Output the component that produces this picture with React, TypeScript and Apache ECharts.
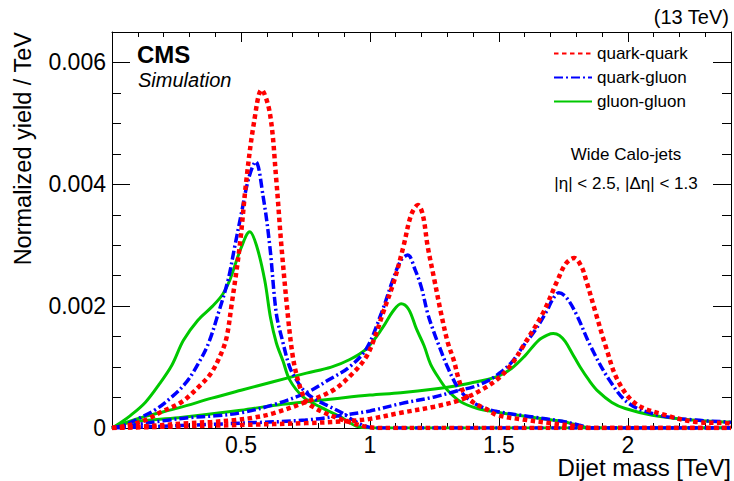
import React, { useEffect, useRef } from "react";
import * as echarts from "echarts";

// Dijet mass [TeV] vs normalized yield / TeV
const qqLow: [number, number][] = [
  [0, 0], [0.06, 0.00004], [0.129, 0.00013], [0.194, 0.00027], [0.271, 0.00043], [0.342, 0.0007],
  [0.387, 0.00092], [0.426, 0.00125], [0.445, 0.0015], [0.463, 0.002], [0.495, 0.00298], [0.521, 0.00407],
  [0.55, 0.005], [0.58, 0.00555], [0.612, 0.00517], [0.637, 0.00407], [0.657, 0.00298], [0.683, 0.0018],
  [0.7, 0.0012], [0.715, 0.00088], [0.735, 0.0006], [0.754, 0.00043], [0.79, 0.00032], [0.818, 0.00026],
  [0.883, 0.00015], [0.934, 0.00008], [0.986, 0.00002], [1.05, 0], [2.4, 0],
];
const qgLow: [number, number][] = [
  [0, 0], [0.05, 0.00005], [0.1, 0.00015], [0.168, 0.0003], [0.232, 0.00051], [0.29, 0.00076],
  [0.335, 0.00106], [0.374, 0.00139], [0.412, 0.00188], [0.45, 0.00243], [0.476, 0.00298], [0.502, 0.00353],
  [0.53, 0.0041], [0.557, 0.00437], [0.586, 0.0038], [0.612, 0.00298], [0.637, 0.00188], [0.66, 0.00145],
  [0.689, 0.001], [0.715, 0.00079], [0.747, 0.0006], [0.792, 0.00046], [0.844, 0.00035], [0.895, 0.00024],
  [0.934, 0.00013], [0.97, 0.00005], [1.0, 0.00001], [1.05, 0], [2.4, 0],
];
const ggLow: [number, number][] = [
  [0, 0], [0.03, 0.00008], [0.07, 0.0002], [0.129, 0.00042], [0.18, 0.0007], [0.232, 0.00103],
  [0.277, 0.00144], [0.333, 0.00177], [0.39, 0.002], [0.43, 0.0022], [0.457, 0.00243], [0.5, 0.00295],
  [0.534, 0.00322], [0.56, 0.003], [0.592, 0.00243], [0.615, 0.0018], [0.637, 0.0014], [0.663, 0.0011],
  [0.689, 0.00079], [0.741, 0.00051], [0.805, 0.00035], [0.883, 0.00019], [0.947, 0.00003], [1.0, 0], [2.4, 0],
];
const qqMid: [number, number][] = [
  [0, 0], [0.1, 0.00002], [0.297, 0.00008], [0.387, 0.0001], [0.477, 0.00013], [0.55, 0.00017],
  [0.625, 0.00024], [0.754, 0.00043], [0.857, 0.00062], [0.934, 0.0009], [0.986, 0.00117], [1.02, 0.0015],
  [1.05, 0.00188], [1.095, 0.00243], [1.13, 0.00298], [1.16, 0.0035], [1.186, 0.00366], [1.205, 0.0035],
  [1.224, 0.00298], [1.25, 0.00243], [1.276, 0.00188], [1.302, 0.0014], [1.326, 0.0011], [1.341, 0.00085],
  [1.365, 0.00057], [1.404, 0.00041], [1.456, 0.0003], [1.494, 0.00021], [1.592, 0.00014], [1.7, 0.00008],
  [1.8, 0.00003], [1.85, 0], [2.4, 0],
];
const qgMid: [number, number][] = [
  [0, 0], [0.1, 0.00006], [0.2, 0.00012], [0.3, 0.00017], [0.4, 0.0002], [0.5, 0.00025], [0.625, 0.00038],
  [0.754, 0.00058], [0.844, 0.0008], [0.92, 0.001], [0.986, 0.0013], [1.044, 0.00188], [1.089, 0.00243],
  [1.12, 0.00275], [1.147, 0.00284], [1.175, 0.0026], [1.2, 0.0023], [1.224, 0.00188], [1.25, 0.00155],
  [1.268, 0.00135], [1.301, 0.001], [1.339, 0.00068], [1.378, 0.00049], [1.43, 0.00035], [1.494, 0.00027],
  [1.616, 0.00019], [1.745, 0.00011], [1.809, 0.00005], [1.86, 0], [2.4, 0],
];
const ggMid: [number, number][] = [
  [0, 0], [0.04, 0.00007], [0.129, 0.00019], [0.258, 0.00033], [0.387, 0.00049], [0.5, 0.00062],
  [0.625, 0.00076], [0.754, 0.0009], [0.85, 0.001], [0.92, 0.00112], [0.986, 0.0013], [1.05, 0.00165],
  [1.09, 0.00192], [1.121, 0.00204], [1.15, 0.00195], [1.18, 0.00163], [1.21, 0.00135], [1.235, 0.00105],
  [1.27, 0.0008], [1.301, 0.00062], [1.352, 0.00043], [1.417, 0.00032], [1.494, 0.00026], [1.62, 0.00018],
  [1.745, 0.00011], [1.81, 0.00004], [1.86, 0], [2.4, 0],
];
const qqHigh: [number, number][] = [
  [0, 0], [0.2, 0.00002], [0.5, 0.00005], [0.75, 0.00008], [0.9, 0.00011], [1.0, 0.00015], [1.12, 0.00025],
  [1.25, 0.00035], [1.35, 0.00046], [1.43, 0.00062], [1.494, 0.0008], [1.55, 0.00105], [1.592, 0.00133],
  [1.67, 0.00188], [1.728, 0.00243], [1.76, 0.0027], [1.792, 0.00279], [1.82, 0.00265], [1.838, 0.00243],
  [1.876, 0.00188], [1.915, 0.00133], [1.96, 0.00079], [2.03, 0.0004], [2.147, 0.00021], [2.263, 0.0001],
  [2.38, 0.00008], [2.4, 0.00007],
];
const qgHigh: [number, number][] = [
  [0, 0], [0.2, 0.00003], [0.5, 0.00008], [0.75, 0.00013], [0.88, 0.0002], [1.0, 0.00028], [1.12, 0.0004],
  [1.25, 0.00051], [1.33, 0.0006], [1.404, 0.00068], [1.46, 0.00078], [1.502, 0.0009], [1.55, 0.00108],
  [1.592, 0.00133], [1.64, 0.0016], [1.683, 0.0019], [1.71, 0.00212], [1.732, 0.00222], [1.76, 0.00215],
  [1.799, 0.00188], [1.857, 0.00133], [1.928, 0.00079], [2.005, 0.0004], [2.121, 0.00021], [2.263, 0.00013],
  [2.38, 0.0001], [2.4, 0.00009],
];
const ggHigh: [number, number][] = [
  [0, 0], [0.077, 0.0001], [0.258, 0.00017], [0.5, 0.00029], [0.625, 0.00037], [0.754, 0.00043],
  [0.883, 0.00049], [1.0, 0.00054], [1.12, 0.00058], [1.25, 0.00064], [1.33, 0.00069], [1.404, 0.00075],
  [1.46, 0.0008], [1.502, 0.00086], [1.55, 0.00098], [1.6, 0.00118], [1.654, 0.00144], [1.69, 0.00153],
  [1.711, 0.00155], [1.735, 0.00152], [1.757, 0.00142], [1.785, 0.00122], [1.815, 0.001], [1.85, 0.00078],
  [1.885, 0.0006], [1.938, 0.00042], [1.99, 0.00032], [2.095, 0.00021], [2.25, 0.00013], [2.38, 0.0001],
  [2.4, 0.0001],
];

const legendNames = ["quark-quark", "quark-gluon", "gluon-gluon"];
const FONT = "'Liberation Sans', Arial, Helvetica, sans-serif";

export default function App() {
  const ref = useRef<HTMLDivElement>(null);
  useEffect(() => {
    if (!ref.current) return;
    const chart = echarts.init(ref.current, undefined, { renderer: "svg" });

    const RED = "#ff0000";
    const BLUE = "#0000ff";
    const GREEN = "#00c800";
    const styles: Record<string, any> = {
      "quark-quark": { color: RED, width: 4.5, type: [4.5, 3.5] },
      "quark-gluon": { color: BLUE, width: 3.5, type: [9, 3, 2, 3] },
      "gluon-gluon": { color: GREEN, width: 3, type: "solid" },
    };
    const curves: [string, [number, number][]][] = [
      ["gluon-gluon", ggLow], ["gluon-gluon", ggMid], ["gluon-gluon", ggHigh],
      ["quark-gluon", qgLow], ["quark-gluon", qgMid], ["quark-gluon", qgHigh],
      ["quark-quark", qqLow], ["quark-quark", qqMid], ["quark-quark", qqHigh],
    ];

    const xMajor = (pos: string, labels: boolean) => ({
      type: "value", min: 0, max: 2.4, interval: 0.5, position: pos,
      axisLine: { show: true, onZero: false, lineStyle: { color: "#000", width: 1 } },
      axisTick: { show: true, inside: true, length: 10, lineStyle: { color: "#000", width: 1 } },
      axisLabel: {
        show: labels, margin: 6, fontSize: 23, lineHeight: 22, color: "#000", fontFamily: FONT,
        formatter: (v: number) => (v > 0 && v <= 2.0001 && Math.abs(v * 2 - Math.round(v * 2)) < 1e-6 ? String(+v.toFixed(1)) : ""),
      },
      splitLine: { show: false },
    });
    const xMinor = (pos: string) => ({
      type: "value", min: 0, max: 2.4, interval: 0.1, position: pos,
      axisLine: { show: false, onZero: false },
      axisTick: { show: true, inside: true, length: 5, lineStyle: { color: "#000", width: 1 } },
      axisLabel: { show: false }, splitLine: { show: false },
    });
    const yMajor = (pos: string, labels: boolean) => ({
      type: "value", min: 0, max: 0.0065, interval: 0.002, position: pos,
      axisLine: { show: true, onZero: false, lineStyle: { color: "#000", width: 1 } },
      axisTick: { show: true, inside: true, length: 18, lineStyle: { color: "#000", width: 1 } },
      axisLabel: {
        show: labels, margin: 6, fontSize: 23, color: "#000", fontFamily: FONT,
        formatter: (v: number) => (v <= 0.0060001 && Math.abs(v * 500 - Math.round(v * 500)) < 1e-6 ? String(+v.toFixed(3)) : ""),
      },
      splitLine: { show: false },
    });
    const yMinor = (pos: string) => ({
      type: "value", min: 0, max: 0.0065, interval: 0.0005, position: pos,
      axisLine: { show: false, onZero: false },
      axisTick: { show: true, inside: true, length: 9, lineStyle: { color: "#000", width: 1 } },
      axisLabel: { show: false }, splitLine: { show: false },
    });

    chart.setOption({
      animation: false,
      textStyle: { fontFamily: FONT },
      grid: { left: 112, right: 2, top: 32, bottom: 53, containLabel: false },
      xAxis: [xMajor("bottom", true), xMajor("top", false), xMinor("bottom"), xMinor("top")],
      yAxis: [yMajor("left", true), yMajor("right", false), yMinor("left"), yMinor("right")],
      legend: {
        data: legendNames,
        orient: "vertical",
        left: 548,
        top: 40,
        itemWidth: 38,
        itemHeight: 14,
        itemGap: 7,
        selectedMode: false,
        itemStyle: { opacity: 0, borderWidth: 0 },
        textStyle: { fontSize: 17, lineHeight: 17, color: "#000", fontFamily: FONT },
      },
      series: curves.map(([name, data]) => ({
        name,
        type: "line",
        xAxisIndex: 0,
        yAxisIndex: 0,
        data,
        smooth: 0.35,
        symbol: "none",
        showSymbol: false,
        lineStyle: styles[name],
        itemStyle: { color: styles[name].color },
        emphasis: { disabled: true },
      })),
      graphic: [
        { type: "text", x: 729, y: 17, style: { text: "(13 TeV)", fontSize: 20, fontFamily: FONT, fill: "#000", align: "right", verticalAlign: "middle" } },
        { type: "text", x: 137, y: 54, style: { text: "CMS", fontSize: 24, fontWeight: "bold", fontFamily: FONT, fill: "#000", align: "left", verticalAlign: "middle" } },
        { type: "text", x: 138, y: 80, style: { text: "Simulation", fontSize: 20, fontStyle: "italic", fontFamily: FONT, fill: "#000", align: "left", verticalAlign: "middle" } },
        { type: "text", x: 626, y: 154, style: { text: "Wide Calo-jets", fontSize: 17, fontFamily: FONT, fill: "#000", align: "center", verticalAlign: "middle" } },
        { type: "text", x: 626, y: 183, style: { text: "|η| < 2.5, |Δη| < 1.3", fontSize: 17, fontFamily: FONT, fill: "#000", align: "center", verticalAlign: "middle" } },
        { type: "text", x: 731, y: 467, style: { text: "Dijet mass [TeV]", fontSize: 24, lineHeight: 18, fontFamily: FONT, fill: "#000", align: "right", verticalAlign: "middle" } },
        { type: "text", x: 23, y: 32, rotation: Math.PI / 2, style: { text: "Normalized yield / TeV", fontSize: 23.5, fontFamily: FONT, fill: "#000", align: "right", verticalAlign: "middle" } },
      ],
    });
    return () => chart.dispose();
  }, []);
  return <div ref={ref} style={{ position: "absolute", left: 0, top: 0, width: 734, height: 481 }} />;
}
